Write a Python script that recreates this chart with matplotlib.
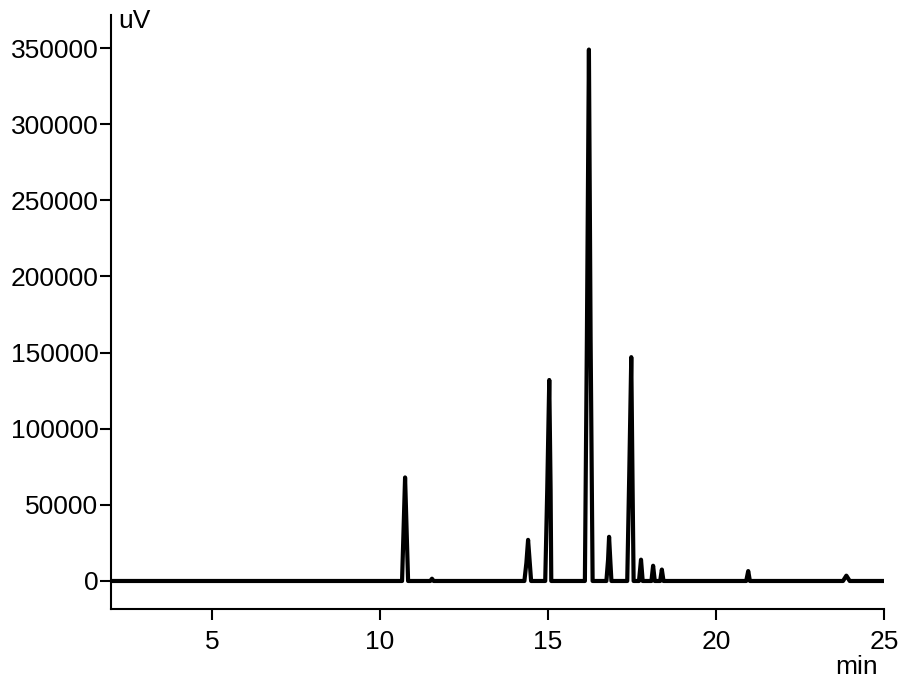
# plot.py
# chromatogram trace (uV vs min)

import matplotlib
matplotlib.use("Agg")
import matplotlib.pyplot as plt

plt.rcParams['font.family'] = ['Liberation Sans', 'DejaVu Sans']

# trace points: retention time (min), signal (uV)
rt = [2.0,
      10.66, 10.70, 10.75, 10.80, 10.84,
      11.50, 11.55, 11.60,
      14.30, 14.36, 14.41, 14.46, 14.50,
      14.92, 14.98, 15.04, 15.08, 15.10,
      16.10, 16.16, 16.22, 16.27, 16.33,
      16.74, 16.79, 16.82, 16.86, 16.89,
      17.36, 17.42, 17.48, 17.52, 17.55,
      17.71, 17.77, 17.82,
      18.08, 18.13, 18.18,
      18.34, 18.39, 18.44,
      20.90, 20.96, 21.01,
      23.78, 23.88, 23.98,
      25.0]
signal = [0,
          0, 30000, 68000, 30000, 0,
          0, 1500, 0,
          0, 12000, 27000, 12000, 0,
          0, 60000, 132000, 60000, 0,
          0, 160000, 349000, 160000, 0,
          0, 14000, 29000, 12000, 0,
          0, 70000, 147000, 60000, 0,
          0, 14000, 0,
          0, 10000, 0,
          0, 7500, 0,
          0, 6500, 0,
          0, 3500, 0,
          0]

xticks = [5, 10, 15, 20, 25]
yticks = [0, 50000, 100000, 150000, 200000, 250000, 300000, 350000]

fig = plt.figure(figsize=(9.13, 6.78), dpi=100)
ax = fig.add_axes([111/913, 69/678, (884-111)/913, (609-15)/678])

ax.plot(rt, signal, color="black", lw=3, solid_joinstyle="round", solid_capstyle="butt")

ax.set_xlim(2, 25)
ax.set_ylim(-18400, 371700)
ax.set_xticks(xticks)
ax.set_yticks(yticks)
ax.set_xticklabels([str(v) for v in xticks])
ax.set_yticklabels([str(v) for v in yticks])

for s in ["top", "right"]:
    ax.spines[s].set_visible(False)
for s in ["left", "bottom"]:
    ax.spines[s].set_linewidth(1.5)

ax.tick_params(axis="both", direction="out", length=8, width=1.5, labelsize=19)
ax.tick_params(axis="x", pad=7)
ax.tick_params(axis="y", pad=1)

fig.text(118/913, 1 - 28/678, "uV", fontsize=19, ha="left", va="baseline")
fig.text(857/913, 1 - 674/678, "min", fontsize=19, ha="center", va="baseline")

fig.savefig("out.png", dpi=100)
